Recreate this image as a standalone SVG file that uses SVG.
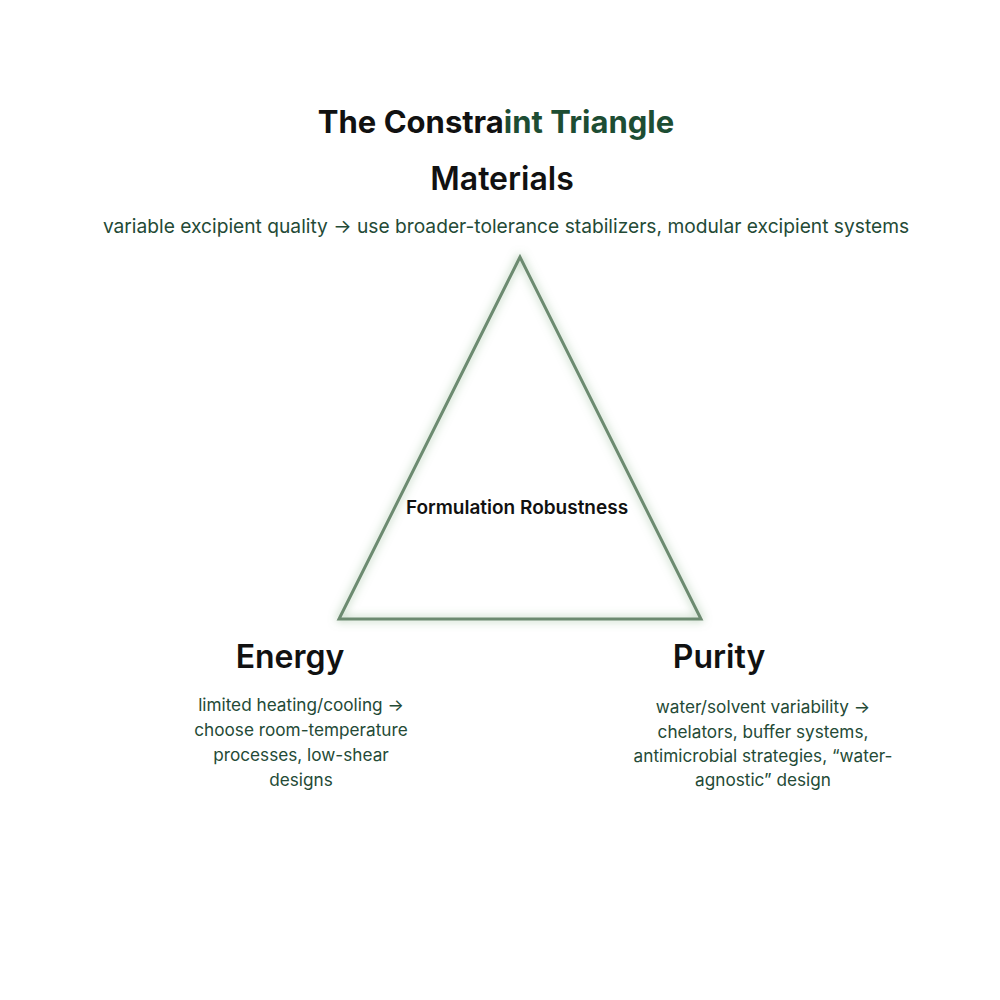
<svg xmlns="http://www.w3.org/2000/svg" width="1000" height="1000" viewBox="0 0 1000 1000">
<defs>
<style>
text{font-family:Inter,"Open Sans","Liberation Sans",sans-serif;text-anchor:middle}
.title{font-size:31px;font-weight:700;fill:#111}
.head{font-size:32px;font-weight:600;fill:#111}
.sub{font-size:19.2px;fill:#244a36}
.desc{font-size:17.2px;fill:#244a36}
.center{font-size:19px;font-weight:600;fill:#111}
.green{fill:#1d4d33}
</style>
<filter id="glow" x="-20%" y="-20%" width="140%" height="140%">
<feGaussianBlur in="SourceAlpha" stdDeviation="5" result="b"/>
<feFlood flood-color="#8fb58f" flood-opacity="0.9"/>
<feComposite in2="b" operator="in" result="g"/>
<feMerge><feMergeNode in="g"/><feMergeNode in="SourceGraphic"/></feMerge>
</filter>
</defs>
<rect width="1000" height="1000" fill="#fff"/>
<text class="title" x="496" y="133">The Constra<tspan class="green">int Triangle</tspan></text>
<g id="connectors">
<polygon id="triangle" points="520,257 339,619 701,619" fill="none" stroke="#6c8a70" stroke-width="3" stroke-linejoin="miter" filter="url(#glow)"/>
</g>
<g id="node-center">
<text class="center" x="517" y="514">Formulation Robustness</text>
</g>
<g id="node-materials">
<text class="head" x="502" y="190">Materials</text>
<text class="sub" x="506" y="233">variable excipient quality → use broader-tolerance stabilizers, modular excipient systems</text>
</g>
<g id="node-energy">
<text class="head" x="290" y="668">Energy</text>
<text class="desc" x="301" y="711">limited heating/cooling →</text>
<text class="desc" x="301" y="736">choose room-temperature</text>
<text class="desc" x="301" y="761">processes, low-shear</text>
<text class="desc" x="301" y="786">designs</text>
</g>
<g id="node-purity">
<text class="head" x="719" y="668">Purity</text>
<text class="desc" x="763" y="713">water/solvent variability →</text>
<text class="desc" x="763" y="738">chelators, buffer systems,</text>
<text class="desc" x="763" y="762">antimicrobial strategies, “water-</text>
<text class="desc" x="763" y="786">agnostic” design</text>
</g>
</svg>
